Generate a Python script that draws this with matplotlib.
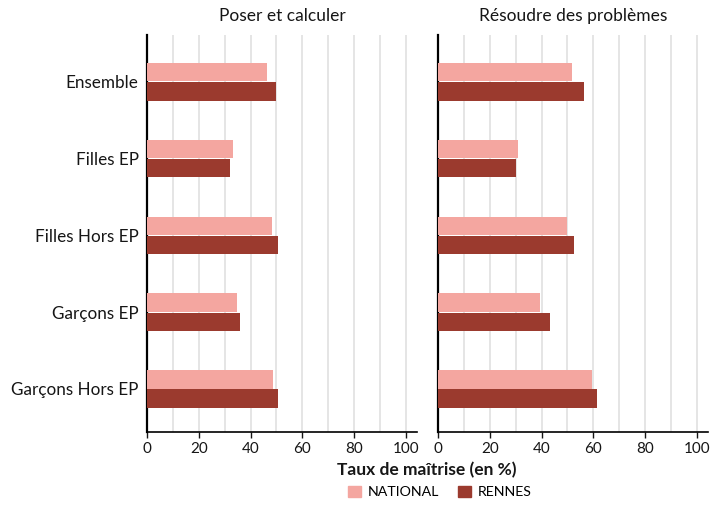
import numpy as np
import matplotlib.pyplot as plt
from matplotlib.patches import Patch

plt.rcParams['font.family'] = ['Lato', 'DejaVu Sans']

categories = ['Ensemble', 'Filles EP', 'Filles Hors EP', 'Garçons EP', 'Garçons Hors EP']
panels = ['Poser et calculer', 'Résoudre des problèmes']
national = [[46.3, 33.1, 48.3, 34.7, 48.6],
            [51.7, 30.8, 49.8, 39.4, 59.5]]
rennes = [[49.8, 32.0, 50.6, 35.9, 50.6],
          [56.4, 30.1, 52.5, 43.2, 61.4]]
ticks = [0, 20, 40, 60, 80, 100]

c_nat = '#f4a6a0'
c_ren = '#9b3a2e'

fig = plt.figure(figsize=(7.24, 5.05), dpi=100)
y = np.arange(len(categories))
h = 0.24

for i, title in enumerate(panels):
    left = [147, 438][i] / 724
    ax = fig.add_axes([left, (505 - 432) / 505, 270 / 724, (432 - 35) / 505])
    ax.barh(y - h / 2 - 0.005, national[i], height=h, color=c_nat, zorder=3)
    ax.barh(y + h / 2 + 0.005, rennes[i], height=h, color=c_ren, zorder=3)
    ax.set_xlim(0, 104.3)
    ax.set_ylim(len(categories) - 0.44, -0.61)
    ax.set_xticks(ticks)
    ax.set_xticks(np.arange(10, 101, 10), minor=True)
    ax.grid(axis='x', which='both', color='#e3e3e3', linewidth=1.3, zorder=0)
    ax.tick_params(axis='x', which='minor', length=0)
    ax.tick_params(axis='x', which='major', length=4, width=1, labelsize=11, colors='#161616')
    for s in ['top', 'right']:
        ax.spines[s].set_visible(False)
    ax.spines['left'].set_linewidth(1.6)
    ax.spines['bottom'].set_linewidth(1.2)
    ax.set_yticks(y)
    if i == 0:
        ax.set_yticklabels(categories, fontsize=12.3, color='#161616')
    else:
        ax.set_yticklabels([])
    ax.tick_params(axis='y', length=0, pad=6)
    ax.set_title(title, fontsize=12.5, color='#161616', pad=10)

fig.text(427 / 724, 1 - 470 / 505, 'Taux de maîtrise (en %)', ha='center', va='center',
         fontsize=12.5, fontweight='bold', color='#161616')
handles = [Patch(color=c_nat, label='NATIONAL'), Patch(color=c_ren, label='RENNES')]
fig.legend(handles=handles, loc='center', bbox_to_anchor=(440 / 724, 1 - 492 / 505), ncol=2,
           frameon=False, fontsize=10.2, handlelength=0.9, handleheight=0.9, columnspacing=1.3,
           handletextpad=0.5)

fig.savefig('out.png', dpi=100)
